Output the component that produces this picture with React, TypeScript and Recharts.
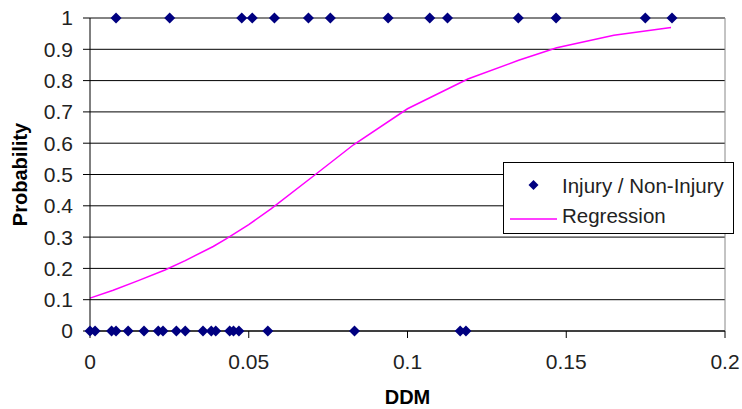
import {
  ComposedChart,
  Scatter,
  Line,
  XAxis,
  YAxis,
  CartesianGrid,
  ReferenceLine,
  Legend,
} from 'recharts'

// DDM values of the observed cases
const injuryDDM = [
  0.0082, 0.0251, 0.0478, 0.0511, 0.0581, 0.0688, 0.0757, 0.0939, 0.107,
  0.1126, 0.1349, 0.1468, 0.1749, 0.1833,
]
const nonInjuryDDM = [
  0, 0.0016, 0.0068, 0.0082, 0.012, 0.017, 0.0215, 0.023, 0.0272, 0.03,
  0.0356, 0.0382, 0.0396, 0.044, 0.0452, 0.0469, 0.056, 0.0833, 0.1166,
  0.1184,
]

// fitted regression curve
const regressionDDM = [
  0, 0.0073, 0.015, 0.0236, 0.03, 0.0388, 0.043, 0.05, 0.057, 0.071, 0.083,
  0.1, 0.119, 0.135, 0.147, 0.165, 0.183,
]
const regressionProb = [
  0.105, 0.13, 0.16, 0.195, 0.225, 0.27, 0.295, 0.34, 0.39, 0.5, 0.595, 0.71,
  0.805, 0.865, 0.905, 0.945, 0.97,
]

const xTicks = [0, 0.05, 0.1, 0.15, 0.2]
const yTicks = [0, 0.1, 0.2, 0.3, 0.4, 0.5, 0.6, 0.7, 0.8, 0.9, 1]

const points = [
  ...injuryDDM.map((x) => ({ x, y: 1 })),
  ...nonInjuryDDM.map((x) => ({ x, y: 0 })),
]
const regression = regressionDDM.map((x, i) => ({ x, y: regressionProb[i] }))

const FONT = '"Liberation Sans", Arial, sans-serif'
const NAVY = '#000080'
const MAGENTA = '#ff00ff'

function Diamond(props: any) {
  const { cx, cy } = props
  const r = 5.5
  return (
    <polygon
      points={`${cx},${cy - r} ${cx + r},${cy} ${cx},${cy + r} ${cx - r},${cy}`}
      fill={NAVY}
    />
  )
}

function LegendBox() {
  return (
    <div
      style={{
        width: 229,
        height: 70,
        border: '1px solid #000',
        background: '#fff',
        fontFamily: FONT,
        fontSize: 21,
        color: '#222',
      }}
    >
      <svg width={229} height={70}>
        <polygon points="29.5,17 34.5,22 29.5,27 24.5,22" fill={NAVY} />
        <text x={58} y={22} dominantBaseline="central" fontSize={20.5} fill="#222">
          Injury / Non-Injury
        </text>
        <line x1={6} x2={53} y1={56} y2={56} stroke={MAGENTA} strokeWidth={1.5} />
        <text x={58} y={52} dominantBaseline="central" fontSize={20.5} fill="#222">
          Regression
        </text>
      </svg>
    </div>
  )
}

export default function App() {
  const tickStyle = { fill: '#222', fontSize: 21, fontFamily: FONT }
  return (
    <div style={{ position: 'absolute', left: 0, top: 0, background: '#fff' }}>
      <ComposedChart
        width={742}
        height={409}
        margin={{ top: 18, right: 17, bottom: 0, left: 0 }}
      >
        <CartesianGrid vertical={false} stroke="#000" strokeWidth={1} />
        <XAxis
          dataKey="x"
          type="number"
          domain={[0, 0.2]}
          ticks={xTicks}
          height={78}
          tick={tickStyle}
          tickSize={7}
          tickMargin={16}
          tickFormatter={(v) => String(v)}
          axisLine={{ stroke: '#000' }}
          tickLine={{ stroke: '#000' }}
          label={{
            content: ({ viewBox }: any) => (
              <text
                x={viewBox.x + viewBox.width / 2}
                y={viewBox.y + viewBox.height - 5}
                textAnchor="middle"
                fontFamily={FONT}
                fontWeight="bold"
                fontSize={20}
                fill="#000"
              >
                DDM
              </text>
            ),
          }}
        />
        <YAxis
          dataKey="y"
          type="number"
          domain={[0, 1]}
          ticks={yTicks}
          width={90}
          tick={tickStyle}
          tickSize={7}
          tickMargin={10}
          tickFormatter={(v) => String(v)}
          axisLine={{ stroke: '#000' }}
          tickLine={{ stroke: '#000' }}
          label={{
            content: ({ viewBox }: any) => {
              const x = viewBox.x + 20
              const y = viewBox.y + viewBox.height / 2
              return (
                <text
                  x={x}
                  y={y}
                  transform={`rotate(-90, ${x}, ${y})`}
                  textAnchor="middle"
                  dominantBaseline="central"
                  fontFamily={FONT}
                  fontWeight="bold"
                  fontSize={20}
                  fill="#000"
                >
                  Probability
                </text>
              )
            },
          }}
        />
        <ReferenceLine y={1} stroke="#888" />
        <ReferenceLine x={0.2} stroke="#888" />
        <Line
          data={regression}
          dataKey="y"
          type="linear"
          stroke={MAGENTA}
          strokeWidth={1.5}
          dot={false}
          activeDot={false}
          isAnimationActive={false}
        />
        <Scatter
          data={points}
          dataKey="y"
          fill={NAVY}
          shape={(p: any) => <Diamond {...p} />}
          isAnimationActive={false}
        />
        <Legend
          layout="vertical"
          align="center"
          verticalAlign="middle"
          wrapperStyle={{ left: 503, top: 162, width: 231, height: 72 }}
          content={() => <LegendBox />}
        />
      </ComposedChart>
    </div>
  )
}
